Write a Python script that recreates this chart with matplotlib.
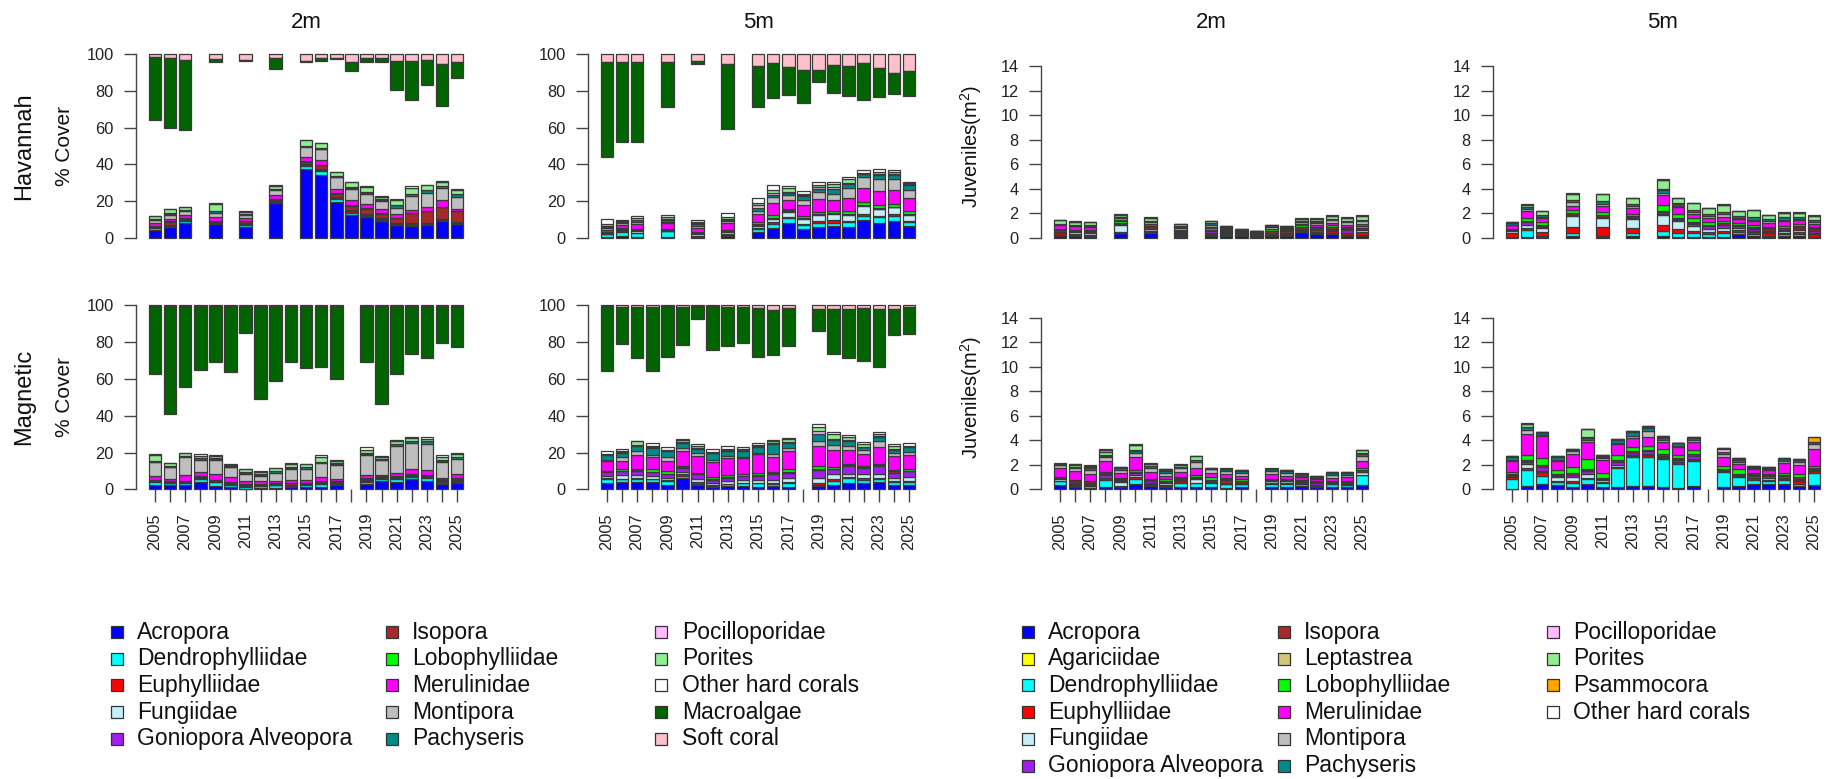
import numpy as np
import matplotlib
matplotlib.use("Agg")
import matplotlib.pyplot as plt
from matplotlib.patches import Rectangle

plt.rcParams['font.family'] = ['Liberation Sans', 'DejaVu Sans']
plt.rcParams['mathtext.fontset'] = 'custom'
plt.rcParams['mathtext.rm'] = 'Liberation Sans'
plt.rcParams['mathtext.it'] = 'Liberation Sans'

# ---------------------------------------------------------------- data
YEARS = list(range(2005, 2026))
HAV_YEARS = [2005, 2006, 2007, 2009, 2011, 2013, 2015, 2016, 2017, 2018,
             2019, 2020, 2021, 2022, 2023, 2024, 2025]
MAG_YEARS = [2005, 2006, 2007, 2008, 2009, 2010, 2011, 2012, 2013, 2014,
             2015, 2016, 2017, 2019, 2020, 2021, 2022, 2023, 2024, 2025]

COVER_TAXA = ["Acropora", "Dendrophylliidae", "Euphylliidae", "Fungiidae",
              "Goniopora Alveopora", "Isopora", "Lobophylliidae", "Merulinidae",
              "Montipora", "Pachyseris", "Pocilloporidae", "Porites",
              "Other hard corals"]
JUV_TAXA = ["Acropora", "Agariciidae", "Dendrophylliidae", "Euphylliidae",
            "Fungiidae", "Goniopora Alveopora", "Isopora", "Leptastrea",
            "Lobophylliidae", "Merulinidae", "Montipora", "Pachyseris",
            "Pocilloporidae", "Porites", "Psammocora", "Other hard corals"]

TAXON_COLOURS = {
    "Acropora": "#0000FF", "Agariciidae": "#FFFF00", "Dendrophylliidae": "#00FFFF",
    "Euphylliidae": "#FF0000", "Fungiidae": "#C6EEF8", "Goniopora Alveopora": "#A020F0",
    "Isopora": "#A52A2A", "Leptastrea": "#D2C679", "Lobophylliidae": "#00FF00",
    "Merulinidae": "#FF00FF", "Montipora": "#BEBEBE", "Pachyseris": "#008B8B",
    "Pocilloporidae": "#FFBBFF", "Porites": "#90EE90", "Psammocora": "#FFA500",
    "Other hard corals": "#FFFFFF", "Macroalgae": "#006400", "Soft coral": "#FFC0CB",
}

# % cover of hard-coral taxa, one row per survey year (columns in COVER_TAXA order)
hav_2m_cover = [
    [4.3, 1.2, 0.3, 0.0, 0.3, 0.5, 0.2, 1.5, 1.3, 0.3, 0.2, 1.8, 0.3],
    [5.8, 0.4, 0.3, 0.3, 0.3, 1.8, 0.2, 1.4, 2.2, 0.4, 0.3, 2.2, 0.3],
    [8.3, 1.2, 0.4, 0.2, 0.3, 0.4, 0.2, 1.6, 2.0, 0.5, 0.2, 1.3, 0.4],
    [7.4, 0.6, 0.3, 0.3, 0.2, 0.3, 0.2, 2.3, 2.0, 1.0, 0.3, 3.8, 0.3],
    [6.1, 0.9, 0.3, 0.4, 0.3, 1.2, 0.2, 1.6, 1.6, 0.3, 0.2, 1.3, 0.2],
    [18.8, 0.3, 0.4, 0.3, 0.3, 0.8, 0.3, 2.4, 2.6, 0.4, 0.3, 1.6, 0.3],
    [37.3, 1.6, 0.6, 0.3, 0.4, 1.2, 0.3, 2.2, 5.4, 0.5, 0.3, 2.9, 0.3],
    [34.4, 2.0, 0.6, 0.3, 0.3, 2.0, 0.3, 2.6, 5.6, 0.5, 0.3, 2.7, 0.3],
    [19.7, 1.5, 0.3, 0.3, 0.3, 2.0, 0.3, 2.2, 6.4, 0.4, 0.2, 2.1, 0.3],
    [12.5, 1.3, 0.8, 0.3, 0.3, 2.4, 0.3, 2.6, 6.2, 0.6, 0.3, 2.6, 0.3],
    [11.6, 0.3, 0.5, 0.3, 0.3, 2.8, 0.3, 2.4, 5.4, 0.8, 0.2, 2.8, 0.4],
    [9.2, 0.3, 0.3, 0.3, 0.6, 2.6, 0.2, 2.4, 4.2, 0.8, 0.5, 1.0, 0.3],
    [7.0, 0.3, 0.3, 0.3, 0.2, 2.8, 0.2, 1.8, 3.6, 1.4, 0.3, 2.6, 0.2],
    [6.7, 0.6, 0.4, 0.2, 0.2, 5.4, 0.2, 1.8, 7.2, 1.0, 0.3, 3.4, 0.6],
    [7.0, 0.5, 0.4, 0.2, 0.2, 6.2, 0.2, 2.2, 7.8, 1.2, 0.3, 2.4, 0.4],
    [9.4, 0.3, 0.5, 0.2, 0.2, 6.0, 0.2, 3.6, 6.8, 0.8, 0.3, 2.2, 0.4],
    [7.6, 0.3, 0.4, 0.2, 0.3, 5.8, 0.2, 1.0, 6.6, 1.4, 0.3, 2.0, 0.6],
]
hav_2m_macroalgae = [34.4, 37.6, 38.0, 1.8, 0.7, 5.8, 0.7, 1.4, 0.2, 4.9,
                     1.9, 1.9, 15.8, 21.2, 13.6, 22.9, 8.7]
hav_2m_softcoral = [1.5, 2.4, 3.3, 2.7, 3.3, 2.4, 3.6, 2.4, 2.4, 4.2,
                    2.4, 2.4, 3.8, 3.8, 3.4, 5.4, 4.5]

hav_5m_cover = [
    [0.4, 1.6, 0.2, 0.4, 0.3, 0.1, 0.2, 1.2, 1.2, 0.6, 0.3, 1.2, 2.4],
    [0.9, 2.6, 0.2, 0.5, 0.9, 0.2, 0.2, 1.8, 0.6, 0.9, 0.2, 0.4, 0.3],
    [0.8, 2.0, 0.2, 0.6, 1.0, 0.2, 0.2, 2.6, 1.0, 1.0, 0.3, 1.2, 0.8],
    [0.4, 3.2, 0.2, 0.4, 0.4, 0.2, 0.3, 2.8, 0.8, 1.2, 0.4, 1.0, 1.4],
    [0.3, 0.3, 0.3, 1.4, 0.5, 0.2, 0.2, 2.4, 1.0, 1.2, 0.2, 0.5, 1.2],
    [1.2, 0.6, 0.3, 1.0, 0.5, 0.3, 0.3, 3.8, 1.4, 0.6, 0.4, 1.0, 2.2],
    [3.4, 1.6, 0.4, 1.0, 0.8, 0.3, 1.0, 4.4, 2.0, 1.6, 1.4, 1.0, 2.8],
    [5.4, 2.0, 1.2, 1.8, 0.5, 0.2, 1.4, 6.6, 3.0, 1.4, 0.8, 2.0, 2.6],
    [8.0, 3.0, 0.3, 3.0, 0.5, 0.2, 1.0, 4.6, 2.6, 1.4, 0.4, 2.4, 0.8],
    [5.0, 2.2, 0.3, 3.0, 0.3, 0.2, 1.0, 6.2, 2.6, 2.0, 0.6, 0.6, 1.6],
    [6.0, 2.4, 0.9, 3.4, 0.3, 0.2, 1.0, 7.0, 3.6, 2.0, 1.0, 0.8, 2.0],
    [6.4, 2.0, 1.4, 3.4, 0.3, 0.2, 0.8, 6.0, 3.6, 2.6, 1.0, 1.4, 1.6],
    [6.2, 2.4, 0.4, 3.6, 0.3, 0.2, 1.4, 7.4, 5.4, 2.0, 0.6, 2.0, 1.0],
    [9.8, 2.2, 0.9, 4.6, 0.3, 0.2, 1.4, 7.6, 6.0, 1.8, 0.4, 0.4, 1.4],
    [8.0, 3.4, 0.6, 3.6, 0.3, 0.3, 1.6, 8.0, 6.2, 2.2, 0.6, 1.0, 1.6],
    [9.2, 3.0, 1.0, 3.4, 0.3, 0.2, 1.4, 7.6, 5.8, 2.4, 0.6, 1.2, 0.9],
    [6.8, 2.0, 0.4, 3.4, 0.3, 0.3, 1.4, 7.4, 4.2, 2.6, 0.5, 0.5, 0.6],
]
hav_5m_macroalgae = [51.3, 43.4, 43.1, 24.1, 1.6, 35.6, 22.1, 19.4, 15.4, 18.1,
                     6.7, 15.0, 16.3, 19.9, 15.4, 11.8, 13.4]
hav_5m_softcoral = [4.5, 4.2, 4.5, 4.5, 3.8, 5.4, 6.5, 4.7, 6.9, 8.7,
                    8.7, 6.0, 6.5, 5.1, 7.8, 10.1, 9.2]

mag_2m_cover = [
    [2.4, 1.8, 0.4, 0.2, 0.2, 0.2, 0.1, 2.2, 7.2, 0.3, 0.2, 3.4, 0.4],
    [2.2, 1.2, 0.3, 0.2, 0.2, 0.2, 0.1, 1.0, 6.6, 0.4, 0.2, 1.6, 0.3],
    [2.2, 1.2, 0.5, 0.2, 0.2, 0.3, 0.2, 3.2, 9.4, 0.5, 0.2, 1.4, 0.5],
    [3.8, 1.6, 1.0, 0.2, 0.2, 0.4, 0.2, 2.2, 6.6, 0.8, 0.2, 1.0, 0.8],
    [1.6, 2.2, 0.4, 0.4, 0.3, 0.2, 0.2, 3.0, 7.8, 0.5, 0.2, 1.2, 0.5],
    [1.2, 1.4, 0.5, 0.2, 0.2, 0.2, 0.2, 2.6, 5.6, 0.3, 0.2, 0.4, 1.0],
    [0.3, 1.2, 0.3, 0.2, 0.2, 0.6, 0.2, 1.8, 3.6, 0.6, 0.2, 1.6, 0.3],
    [0.5, 1.4, 0.3, 0.2, 0.2, 0.3, 0.1, 1.4, 3.0, 0.6, 0.2, 1.2, 0.3],
    [0.6, 1.6, 0.4, 0.2, 0.3, 0.2, 0.1, 1.2, 4.4, 0.8, 0.2, 1.4, 0.2],
    [1.2, 0.6, 0.3, 0.2, 0.3, 0.8, 0.2, 1.4, 6.0, 0.8, 0.3, 1.8, 0.6],
    [1.2, 1.2, 0.5, 0.2, 0.2, 0.3, 0.1, 1.4, 6.2, 0.8, 0.2, 1.2, 0.5],
    [1.4, 1.6, 0.5, 0.4, 0.2, 0.2, 0.1, 2.4, 7.6, 0.4, 0.3, 2.2, 1.2],
    [2.6, 0.5, 0.5, 0.2, 0.2, 0.5, 0.1, 1.0, 7.8, 0.6, 0.2, 1.4, 0.4],
    [2.8, 1.0, 1.0, 0.4, 0.3, 0.5, 0.2, 1.8, 10.6, 0.6, 0.4, 1.6, 1.8],
    [4.8, 0.8, 0.3, 0.3, 0.6, 0.3, 0.1, 0.5, 8.0, 0.4, 0.2, 1.2, 0.5],
    [3.8, 1.6, 0.5, 0.4, 0.3, 0.6, 0.2, 1.6, 14.6, 0.8, 0.2, 1.6, 0.8],
    [5.8, 1.0, 0.4, 0.3, 0.3, 0.6, 0.2, 2.6, 14.2, 0.8, 0.3, 1.2, 0.8],
    [4.8, 1.2, 0.5, 0.3, 0.3, 0.6, 0.2, 2.4, 14.4, 1.4, 0.2, 1.2, 1.0],
    [2.8, 0.3, 1.0, 0.3, 0.5, 0.5, 0.2, 0.8, 8.6, 0.6, 0.2, 2.0, 0.7],
    [3.4, 0.8, 0.5, 0.3, 0.3, 0.4, 0.2, 2.2, 8.6, 0.8, 0.2, 1.4, 0.9],
]
mag_2m_macroalgae = [37.2, 58.8, 43.9, 34.8, 30.3, 36.1, 14.6, 50.4, 40.6, 30.7,
                     33.9, 33.0, 39.6, 30.7, 53.3, 36.7, 26.3, 28.3, 20.3, 22.2]
mag_2m_softcoral = [0.3, 0.3, 0.4, 0.3, 0.3, 0.3, 0.3, 0.3, 0.3, 0.3,
                    0.3, 0.4, 0.4, 0.3, 0.3, 0.4, 0.3, 0.4, 0.3, 0.3]

mag_5m_cover = [
    [3.6, 2.0, 0.3, 1.2, 2.4, 0.3, 0.3, 5.2, 0.8, 2.6, 0.3, 0.4, 1.6],
    [4.2, 1.2, 0.3, 2.0, 2.0, 0.3, 1.0, 4.6, 2.2, 2.2, 0.3, 0.6, 1.2],
    [4.2, 1.6, 0.4, 1.8, 2.2, 0.3, 0.6, 7.8, 1.8, 3.0, 0.3, 2.2, 0.3],
    [3.8, 1.6, 0.4, 1.6, 1.8, 0.3, 1.4, 6.6, 1.2, 4.0, 0.3, 0.5, 1.5],
    [2.6, 2.0, 0.3, 1.4, 2.0, 0.3, 1.4, 5.6, 1.8, 3.2, 0.5, 0.3, 1.6],
    [6.0, 1.2, 1.0, 1.2, 2.2, 0.3, 1.0, 8.0, 1.6, 2.8, 0.3, 1.0, 0.9],
    [2.2, 0.6, 1.4, 1.6, 2.4, 0.4, 0.5, 9.2, 1.6, 2.2, 0.4, 1.0, 1.0],
    [1.0, 0.8, 0.4, 1.2, 1.8, 0.3, 1.2, 8.2, 1.2, 3.4, 0.3, 0.6, 1.6],
    [1.6, 1.2, 0.3, 1.2, 2.0, 0.3, 1.2, 9.0, 1.2, 2.8, 0.4, 0.8, 1.5],
    [1.8, 1.6, 0.3, 1.2, 2.2, 0.3, 1.0, 8.4, 0.8, 3.2, 0.3, 0.6, 1.3],
    [1.4, 1.8, 0.3, 1.4, 2.6, 0.3, 1.0, 10.2, 0.8, 3.2, 0.5, 0.8, 0.7],
    [1.8, 1.2, 0.5, 1.8, 3.2, 0.3, 0.6, 8.4, 1.4, 5.6, 0.4, 1.0, 0.8],
    [1.2, 2.4, 0.3, 2.0, 3.2, 0.3, 1.6, 9.6, 2.0, 2.4, 0.6, 1.6, 0.8],
    [1.6, 0.8, 1.2, 2.4, 4.6, 0.5, 1.4, 11.2, 2.8, 3.6, 1.6, 2.0, 1.8],
    [2.2, 2.4, 1.0, 2.6, 2.6, 0.4, 1.0, 9.4, 2.4, 2.6, 1.0, 2.6, 0.8],
    [3.4, 2.6, 0.8, 1.6, 4.2, 0.6, 0.6, 7.6, 2.4, 2.2, 0.6, 1.8, 1.1],
    [3.6, 1.6, 1.0, 2.4, 2.8, 0.6, 0.6, 6.6, 2.0, 1.6, 0.4, 1.4, 0.9],
    [3.8, 1.6, 0.6, 2.4, 4.2, 0.6, 0.6, 9.4, 2.8, 2.2, 1.0, 1.0, 0.8],
    [2.2, 1.8, 0.5, 1.6, 3.0, 0.6, 0.6, 7.6, 2.0, 1.6, 0.4, 1.8, 0.8],
    [2.2, 2.0, 0.5, 1.8, 3.2, 0.4, 1.0, 7.8, 1.6, 2.4, 0.4, 0.4, 1.3],
]
mag_5m_macroalgae = [35.4, 20.2, 27.4, 34.5, 27.4, 20.6, 7.0, 24.0, 21.1, 19.1,
                     26.7, 24.4, 20.3, 11.8, 24.6, 26.8, 28.7, 31.5, 14.3, 14.6]
mag_5m_softcoral = [0.3, 1.0, 1.0, 1.2, 0.5, 1.0, 0.6, 0.5, 1.0, 1.2,
                    1.6, 2.6, 1.6, 2.0, 2.0, 2.0, 1.4, 1.8, 1.8, 0.8]

# juvenile density (per m2), one row per survey year (columns in JUV_TAXA order)
hav_2m_juv = [
    [0.2, 0.02, 0.05, 0.15, 0.05, 0.05, 0.1, 0.02, 0.1, 0.35, 0.05, 0.02, 0.02, 0.25, 0.0, 0.02],
    [0.2, 0.02, 0.05, 0.05, 0.2, 0.05, 0.05, 0.02, 0.02, 0.3, 0.05, 0.05, 0.02, 0.25, 0.0, 0.02],
    [0.1, 0.02, 0.05, 0.05, 0.2, 0.05, 0.05, 0.02, 0.1, 0.3, 0.05, 0.02, 0.02, 0.25, 0.0, 0.02],
    [0.4, 0.02, 0.02, 0.05, 0.55, 0.1, 0.05, 0.02, 0.2, 0.1, 0.1, 0.05, 0.05, 0.2, 0.0, 0.02],
    [0.4, 0.02, 0.05, 0.1, 0.15, 0.05, 0.1, 0.02, 0.1, 0.15, 0.15, 0.1, 0.02, 0.25, 0.0, 0.05],
    [0.1, 0.02, 0.05, 0.05, 0.1, 0.05, 0.1, 0.02, 0.1, 0.1, 0.15, 0.1, 0.02, 0.2, 0.0, 0.02],
    [0.15, 0.02, 0.05, 0.1, 0.05, 0.2, 0.1, 0.02, 0.1, 0.15, 0.15, 0.1, 0.02, 0.15, 0.0, 0.04],
    [0.15, 0.02, 0.05, 0.05, 0.05, 0.1, 0.1, 0.02, 0.1, 0.1, 0.1, 0.05, 0.02, 0.05, 0.0, 0.02],
    [0.15, 0.02, 0.02, 0.05, 0.05, 0.05, 0.05, 0.02, 0.1, 0.02, 0.05, 0.05, 0.02, 0.08, 0.0, 0.02],
    [0.1, 0.02, 0.02, 0.05, 0.02, 0.05, 0.1, 0.02, 0.05, 0.02, 0.05, 0.05, 0.02, 0.02, 0.0, 0.02],
    [0.2, 0.02, 0.02, 0.1, 0.05, 0.05, 0.15, 0.02, 0.1, 0.05, 0.1, 0.1, 0.02, 0.08, 0.0, 0.04],
    [0.2, 0.02, 0.02, 0.05, 0.05, 0.05, 0.15, 0.02, 0.1, 0.05, 0.1, 0.1, 0.02, 0.05, 0.0, 0.02],
    [0.5, 0.02, 0.05, 0.1, 0.05, 0.05, 0.15, 0.02, 0.1, 0.1, 0.15, 0.05, 0.02, 0.2, 0.0, 0.04],
    [0.3, 0.02, 0.05, 0.1, 0.05, 0.1, 0.2, 0.02, 0.1, 0.15, 0.15, 0.1, 0.02, 0.2, 0.0, 0.04],
    [0.35, 0.02, 0.05, 0.15, 0.05, 0.1, 0.2, 0.02, 0.1, 0.2, 0.2, 0.1, 0.02, 0.25, 0.0, 0.04],
    [0.2, 0.02, 0.05, 0.1, 0.05, 0.2, 0.15, 0.02, 0.1, 0.2, 0.2, 0.1, 0.02, 0.25, 0.0, 0.04],
    [0.15, 0.02, 0.05, 0.25, 0.2, 0.05, 0.1, 0.02, 0.15, 0.15, 0.25, 0.1, 0.02, 0.3, 0.0, 0.04],
]
hav_5m_juv = [
    [0.05, 0.0, 0.05, 0.3, 0.2, 0.05, 0.05, 0.0, 0.05, 0.3, 0.05, 0.1, 0.02, 0.05, 0.0, 0.03],
    [0.05, 0.0, 0.6, 0.2, 0.25, 0.2, 0.05, 0.05, 0.2, 0.6, 0.15, 0.15, 0.02, 0.2, 0.0, 0.03],
    [0.1, 0.0, 0.1, 0.3, 0.35, 0.05, 0.1, 0.05, 0.25, 0.35, 0.1, 0.1, 0.02, 0.3, 0.0, 0.03],
    [0.2, 0.0, 0.2, 0.5, 0.9, 0.1, 0.1, 0.05, 0.2, 0.35, 0.3, 0.2, 0.02, 0.5, 0.0, 0.03],
    [0.1, 0.0, 0.1, 0.7, 0.7, 0.1, 0.15, 0.05, 0.25, 0.5, 0.15, 0.2, 0.02, 0.55, 0.0, 0.03],
    [0.2, 0.0, 0.2, 0.45, 0.7, 0.1, 0.1, 0.05, 0.15, 0.5, 0.15, 0.15, 0.02, 0.5, 0.0, 0.03],
    [0.2, 0.0, 0.35, 0.5, 0.8, 0.1, 0.2, 0.05, 0.5, 0.8, 0.15, 0.3, 0.02, 0.8, 0.0, 0.03],
    [0.05, 0.0, 0.4, 0.3, 0.6, 0.1, 0.1, 0.05, 0.35, 0.55, 0.15, 0.15, 0.02, 0.45, 0.0, 0.03],
    [0.05, 0.0, 0.4, 0.1, 0.4, 0.2, 0.1, 0.05, 0.3, 0.35, 0.15, 0.2, 0.02, 0.5, 0.0, 0.03],
    [0.05, 0.0, 0.3, 0.15, 0.25, 0.2, 0.1, 0.05, 0.2, 0.35, 0.15, 0.15, 0.02, 0.45, 0.0, 0.03],
    [0.05, 0.0, 0.35, 0.15, 0.3, 0.25, 0.1, 0.05, 0.15, 0.35, 0.2, 0.15, 0.02, 0.6, 0.0, 0.03],
    [0.3, 0.0, 0.2, 0.15, 0.2, 0.1, 0.1, 0.05, 0.1, 0.35, 0.1, 0.15, 0.02, 0.35, 0.0, 0.03],
    [0.15, 0.0, 0.2, 0.15, 0.1, 0.1, 0.15, 0.05, 0.15, 0.3, 0.15, 0.2, 0.02, 0.55, 0.0, 0.03],
    [0.1, 0.0, 0.1, 0.2, 0.1, 0.1, 0.15, 0.05, 0.1, 0.35, 0.15, 0.15, 0.02, 0.3, 0.0, 0.03],
    [0.2, 0.0, 0.1, 0.15, 0.1, 0.1, 0.15, 0.05, 0.1, 0.45, 0.1, 0.2, 0.02, 0.35, 0.0, 0.03],
    [0.2, 0.0, 0.1, 0.2, 0.15, 0.1, 0.15, 0.05, 0.2, 0.3, 0.1, 0.15, 0.02, 0.35, 0.0, 0.03],
    [0.05, 0.0, 0.05, 0.25, 0.05, 0.15, 0.15, 0.1, 0.1, 0.25, 0.15, 0.15, 0.02, 0.35, 0.0, 0.03],
]
mag_2m_juv = [
    [0.35, 0.0, 0.3, 0.05, 0.15, 0.05, 0.05, 0.02, 0.05, 0.7, 0.25, 0.05, 0.02, 0.05, 0.0, 0.06],
    [0.2, 0.0, 0.05, 0.1, 0.05, 0.1, 0.2, 0.02, 0.05, 0.7, 0.25, 0.1, 0.02, 0.15, 0.1, 0.01],
    [0.1, 0.0, 0.15, 0.1, 0.1, 0.1, 0.1, 0.02, 0.05, 0.55, 0.3, 0.2, 0.02, 0.1, 0.05, 0.06],
    [0.2, 0.0, 0.6, 0.1, 0.05, 0.2, 0.1, 0.05, 0.1, 0.9, 0.35, 0.1, 0.05, 0.25, 0.15, 0.05],
    [0.15, 0.0, 0.1, 0.05, 0.3, 0.1, 0.1, 0.02, 0.1, 0.45, 0.2, 0.15, 0.02, 0.05, 0.0, 0.01],
    [0.4, 0.0, 0.45, 0.15, 0.2, 0.1, 0.1, 0.05, 0.1, 1.1, 0.35, 0.15, 0.02, 0.45, 0.0, 0.08],
    [0.25, 0.0, 0.1, 0.05, 0.1, 0.15, 0.1, 0.02, 0.1, 0.55, 0.35, 0.15, 0.02, 0.15, 0.0, 0.06],
    [0.2, 0.0, 0.1, 0.05, 0.2, 0.05, 0.1, 0.02, 0.1, 0.3, 0.2, 0.2, 0.02, 0.1, 0.0, 0.01],
    [0.2, 0.0, 0.3, 0.2, 0.1, 0.05, 0.05, 0.02, 0.05, 0.45, 0.3, 0.1, 0.02, 0.15, 0.0, 0.06],
    [0.2, 0.0, 0.3, 0.05, 0.3, 0.05, 0.1, 0.02, 0.15, 0.55, 0.5, 0.15, 0.02, 0.3, 0.0, 0.06],
    [0.15, 0.0, 0.4, 0.05, 0.05, 0.05, 0.05, 0.02, 0.25, 0.35, 0.25, 0.05, 0.02, 0.05, 0.0, 0.01],
    [0.1, 0.0, 0.3, 0.05, 0.05, 0.05, 0.25, 0.02, 0.1, 0.35, 0.2, 0.15, 0.02, 0.05, 0.0, 0.01],
    [0.2, 0.0, 0.2, 0.05, 0.05, 0.05, 0.15, 0.02, 0.1, 0.3, 0.2, 0.15, 0.02, 0.05, 0.0, 0.01],
    [0.15, 0.0, 0.3, 0.05, 0.15, 0.05, 0.1, 0.02, 0.05, 0.35, 0.25, 0.15, 0.02, 0.05, 0.0, 0.01],
    [0.15, 0.0, 0.25, 0.15, 0.1, 0.05, 0.1, 0.02, 0.05, 0.25, 0.25, 0.1, 0.02, 0.05, 0.0, 0.01],
    [0.3, 0.0, 0.1, 0.05, 0.05, 0.1, 0.1, 0.02, 0.05, 0.2, 0.15, 0.1, 0.02, 0.05, 0.0, 0.01],
    [0.2, 0.0, 0.05, 0.05, 0.05, 0.15, 0.1, 0.02, 0.05, 0.15, 0.1, 0.1, 0.02, 0.05, 0.0, 0.01],
    [0.2, 0.0, 0.2, 0.05, 0.1, 0.05, 0.05, 0.02, 0.05, 0.2, 0.25, 0.15, 0.02, 0.05, 0.0, 0.01],
    [0.2, 0.0, 0.15, 0.05, 0.05, 0.05, 0.05, 0.02, 0.1, 0.3, 0.2, 0.15, 0.02, 0.05, 0.0, 0.01],
    [0.35, 0.0, 0.8, 0.05, 0.2, 0.05, 0.1, 0.02, 0.2, 0.55, 0.4, 0.2, 0.02, 0.25, 0.0, 0.01],
]
mag_5m_juv = [
    [0.05, 0.0, 0.8, 0.15, 0.05, 0.1, 0.1, 0.02, 0.15, 0.9, 0.1, 0.2, 0.02, 0.05, 0.0, 0.01],
    [0.3, 0.0, 1.3, 0.15, 0.3, 0.2, 0.1, 0.02, 0.4, 1.75, 0.35, 0.2, 0.02, 0.25, 0.0, 0.06],
    [0.4, 0.0, 0.65, 0.35, 0.1, 0.35, 0.15, 0.02, 0.55, 1.75, 0.1, 0.2, 0.02, 0.05, 0.0, 0.01],
    [0.35, 0.0, 0.25, 0.1, 0.3, 0.1, 0.1, 0.02, 0.35, 0.7, 0.1, 0.25, 0.02, 0.05, 0.0, 0.01],
    [0.2, 0.0, 0.35, 0.1, 0.35, 0.2, 0.1, 0.02, 0.5, 1.05, 0.25, 0.1, 0.02, 0.05, 0.0, 0.01],
    [0.45, 0.0, 0.4, 0.1, 0.3, 0.25, 0.1, 0.02, 0.85, 1.4, 0.15, 0.2, 0.02, 0.65, 0.0, 0.06],
    [0.15, 0.0, 0.35, 0.1, 0.15, 0.1, 0.05, 0.02, 0.45, 1.05, 0.15, 0.1, 0.02, 0.1, 0.0, 0.01],
    [0.15, 0.0, 1.55, 0.1, 0.2, 0.25, 0.1, 0.02, 0.4, 0.9, 0.1, 0.25, 0.02, 0.05, 0.0, 0.01],
    [0.25, 0.0, 2.35, 0.15, 0.05, 0.2, 0.1, 0.02, 0.35, 0.7, 0.2, 0.3, 0.02, 0.05, 0.0, 0.01],
    [0.25, 0.0, 2.4, 0.15, 0.1, 0.2, 0.1, 0.02, 0.3, 0.75, 0.45, 0.3, 0.02, 0.15, 0.0, 0.01],
    [0.15, 0.0, 2.3, 0.1, 0.05, 0.15, 0.1, 0.02, 0.4, 0.6, 0.15, 0.2, 0.02, 0.1, 0.0, 0.01],
    [0.1, 0.0, 2.0, 0.1, 0.05, 0.15, 0.1, 0.02, 0.3, 0.6, 0.15, 0.2, 0.02, 0.0, 0.0, 0.01],
    [0.25, 0.0, 2.05, 0.1, 0.05, 0.3, 0.1, 0.02, 0.3, 0.65, 0.2, 0.15, 0.02, 0.1, 0.0, 0.01],
    [0.15, 0.0, 1.3, 0.05, 0.05, 0.05, 0.05, 0.02, 0.25, 0.75, 0.25, 0.1, 0.25, 0.1, 0.0, 0.03],
    [0.25, 0.0, 0.75, 0.05, 0.05, 0.05, 0.1, 0.02, 0.35, 0.45, 0.15, 0.2, 0.05, 0.05, 0.0, 0.03],
    [0.4, 0.0, 0.4, 0.1, 0.05, 0.1, 0.15, 0.02, 0.1, 0.3, 0.1, 0.1, 0.02, 0.05, 0.0, 0.01],
    [0.4, 0.0, 0.3, 0.1, 0.1, 0.15, 0.1, 0.02, 0.1, 0.3, 0.1, 0.05, 0.02, 0.05, 0.0, 0.01],
    [0.4, 0.0, 0.35, 0.1, 0.1, 0.1, 0.1, 0.02, 0.2, 0.8, 0.15, 0.15, 0.02, 0.05, 0.0, 0.01],
    [0.25, 0.0, 0.2, 0.2, 0.1, 0.1, 0.15, 0.02, 0.2, 0.8, 0.2, 0.15, 0.02, 0.05, 0.0, 0.01],
    [0.35, 0.0, 0.95, 0.2, 0.05, 0.1, 0.1, 0.02, 0.15, 1.4, 0.35, 0.15, 0.02, 0.05, 0.4, 0.01],
]

COVER_LEGEND = COVER_TAXA + ["Macroalgae", "Soft coral"]

# ---------------------------------------------------------------- layout
W, H = 1834, 779
fig = plt.figure(figsize=(W / 100, H / 100), dpi=100)

BAR_W = 1 / 1.2
EDGE = "#3a3a3a"
AXC = "#444444"
TICK_FS = 11.8
COL_LEFT = [136, 588, 1041, 1493]
AX_W = 340
ROW_TOP = [46.6, 297.9]
AX_H = 198.8


def make_axes(row, col):
    left = COL_LEFT[col] / W
    bottom = 1 - (ROW_TOP[row] + AX_H) / H
    return fig.add_axes([left, bottom, AX_W / W, AX_H / H])


def draw_stack(ax, years, rows, taxa):
    x = np.array([YEARS.index(y) for y in years])
    vals = np.array(rows, dtype=float).T
    base = np.zeros(len(years))
    for name, v in zip(taxa, vals):
        ax.bar(x, v, BAR_W, bottom=base, color=TAXON_COLOURS[name],
               edgecolor=EDGE, linewidth=0.9)
        base += v


def draw_hanging(ax, years, macro, soft):
    x = np.array([YEARS.index(y) for y in years])
    soft = np.array(soft)
    macro = np.array(macro)
    ax.bar(x, soft, BAR_W, bottom=100 - soft, color=TAXON_COLOURS["Soft coral"],
           edgecolor=EDGE, linewidth=0.9)
    ax.bar(x, macro, BAR_W, bottom=100 - soft - macro,
           color=TAXON_COLOURS["Macroalgae"], edgecolor=EDGE, linewidth=0.9)


def style_axes(ax, row, ymax, yticks):
    ax.set_xlim(-1.25, len(YEARS) - 1 + 1.25)
    pad = ymax * 0.04
    ax.set_ylim(-pad, ymax + pad)
    for s in ("top", "right"):
        ax.spines[s].set_visible(False)
    ax.spines["left"].set_bounds(yticks[0], yticks[-1])
    ax.spines["left"].set_color(AXC)
    ax.spines["left"].set_linewidth(1.0)
    ax.set_yticks(yticks)
    ax.set_yticklabels([str(t) for t in yticks])
    ax.tick_params(axis="y", length=8.6, width=1.0, color=AXC, pad=7.5,
                   labelsize=TICK_FS, labelcolor="#222222")
    if row == 0:
        ax.spines["bottom"].set_visible(False)
        ax.set_xticks([])
    else:
        ax.spines["bottom"].set_position(("data", 0))
        ax.spines["bottom"].set_visible(False)
        ax.set_xticks(range(len(YEARS)))
        ax.set_xticklabels([str(y) if (y - YEARS[0]) % 2 == 0 else "" for y in YEARS],
                           rotation=90)
        ax.tick_params(axis="x", length=9.0, width=1.0, color=AXC, pad=8,
                       labelsize=TICK_FS, labelcolor="#222222")
    ax.patch.set_alpha(0)


panels = [
    (0, 0, "cover", HAV_YEARS, hav_2m_cover, hav_2m_macroalgae, hav_2m_softcoral),
    (0, 1, "cover", HAV_YEARS, hav_5m_cover, hav_5m_macroalgae, hav_5m_softcoral),
    (0, 2, "juv", HAV_YEARS, hav_2m_juv, None, None),
    (0, 3, "juv", HAV_YEARS, hav_5m_juv, None, None),
    (1, 0, "cover", MAG_YEARS, mag_2m_cover, mag_2m_macroalgae, mag_2m_softcoral),
    (1, 1, "cover", MAG_YEARS, mag_5m_cover, mag_5m_macroalgae, mag_5m_softcoral),
    (1, 2, "juv", MAG_YEARS, mag_2m_juv, None, None),
    (1, 3, "juv", MAG_YEARS, mag_5m_juv, None, None),
]

for row, col, kind, yrs, rows, macro, soft in panels:
    ax = make_axes(row, col)
    if kind == "cover":
        draw_stack(ax, yrs, rows, COVER_TAXA)
        draw_hanging(ax, yrs, macro, soft)
        style_axes(ax, row, 100, list(range(0, 101, 20)))
    else:
        draw_stack(ax, yrs, rows, JUV_TAXA)
        style_axes(ax, row, 15, list(range(0, 15, 2)))

# column headings
for col, label in enumerate(["2m", "5m", "2m", "5m"]):
    fig.text((COL_LEFT[col] + AX_W / 2) / W, 1 - 22 / H, label,
             ha="center", va="center", fontsize=16, color="#111111")

# row and axis labels
for row, site in enumerate(["Havannah", "Magnetic"]):
    yc = 1 - (ROW_TOP[row] + AX_H / 2) / H
    fig.text(24.5 / W, yc, site, rotation=90, ha="center", va="center",
             fontsize=17, color="#111111")
    fig.text(64.5 / W, yc, "% Cover", rotation=90, ha="center", va="center",
             fontsize=15, color="#111111")
    fig.text(971 / W, yc, "Juveniles(m$^2$)", rotation=90, ha="center",
             va="center", fontsize=14.5, color="#111111")

# legends
LEG_TOP = 632
LEG_STEP = 26.7
SQ = 12
LEG_FS = 16.5


def draw_legend(names, rows_per_col, sq_x, text_x):
    for i, name in enumerate(names):
        c, r = divmod(i, rows_per_col)
        yc = LEG_TOP + r * LEG_STEP
        fig.patches.append(Rectangle(((sq_x[c] - SQ / 2) / W, 1 - (yc + SQ / 2) / H),
                                     SQ / W, SQ / H, transform=fig.transFigure,
                                     facecolor=TAXON_COLOURS[name], edgecolor="#333333",
                                     linewidth=0.9))
        fig.text(text_x[c] / W, 1 - yc / H, name, ha="left", va="center",
                 fontsize=LEG_FS, color="#111111")


draw_legend(COVER_LEGEND, 5, [117, 392, 661], [137, 412, 682])
draw_legend(JUV_TAXA, 6, [1028, 1284, 1553], [1048, 1304, 1573])

fig.savefig("out.png", dpi=100)
